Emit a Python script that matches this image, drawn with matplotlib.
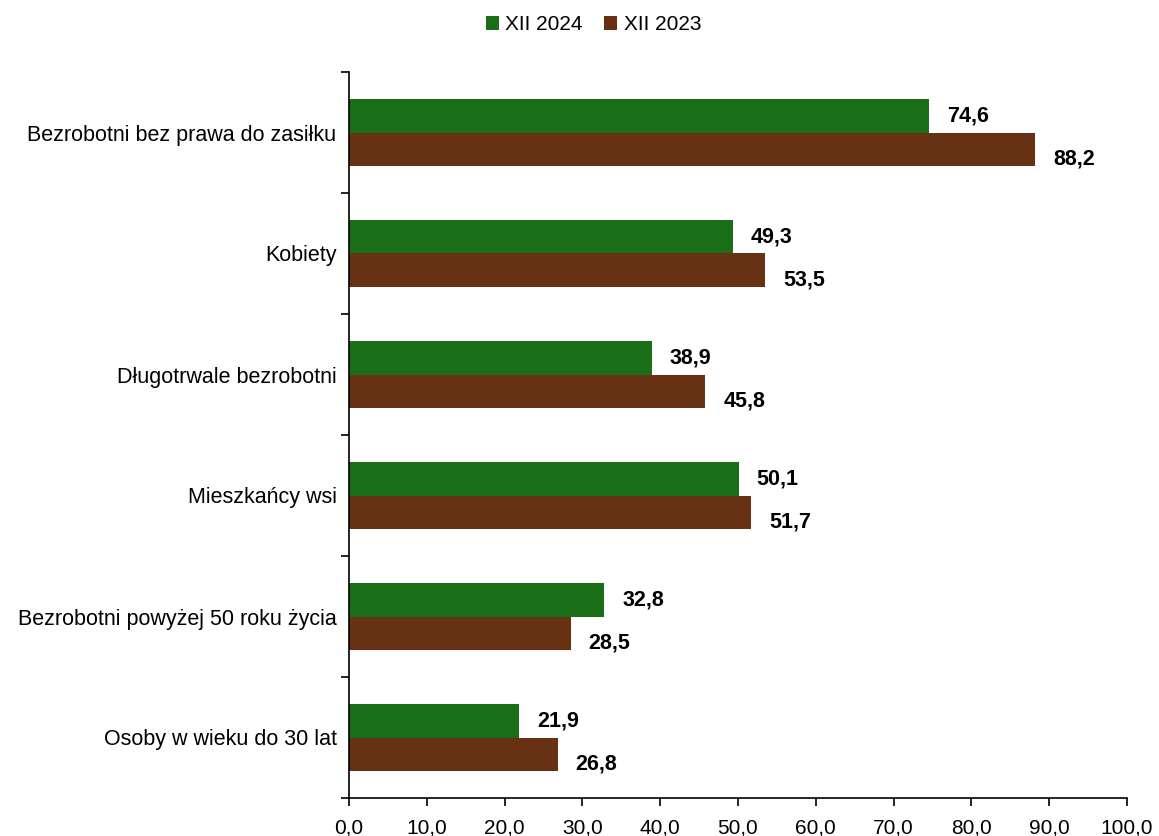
import numpy as np
import matplotlib.pyplot as plt

plt.rcParams['font.family'] = ['Liberation Sans', 'DejaVu Sans']

# Dane
kategorie = ['Bezrobotni bez prawa do zasiłku', 'Kobiety', 'Długotrwale bezrobotni',
             'Mieszkańcy wsi', 'Bezrobotni powyżej 50 roku życia', 'Osoby w wieku do 30 lat']
xii_2024 = [74.6, 49.3, 38.9, 50.1, 32.8, 21.9]
xii_2023 = [88.2, 53.5, 45.8, 51.7, 28.5, 26.8]
etykiety_x = ['0,0', '10,0', '20,0', '30,0', '40,0', '50,0', '60,0', '70,0', '80,0', '90,0', '100,0']

kolor_2024 = '#1a6e17'
kolor_2023 = '#673214'

fig = plt.figure(figsize=(11.59, 8.36), dpi=100)
ax = fig.add_axes([349 / 1159, 38 / 836, 778 / 1159, 726 / 836])

n = len(kategorie)
y = np.arange(n)[::-1]
h = 0.273

ax.barh(y + h / 2, xii_2024, height=h, color=kolor_2024, label='XII 2024')
ax.barh(y - h / 2, xii_2023, height=h, color=kolor_2023, label='XII 2023')

# Etykiety wartosci
for yi, v in zip(y, xii_2024):
    ax.annotate(f'{v:.1f}'.replace('.', ','), (v, yi + h / 2), xytext=(18, 0),
                textcoords='offset pixels', va='center', ha='left',
                fontsize=15.5, fontweight='bold')
for yi, v in zip(y, xii_2023):
    ax.annotate(f'{v:.1f}'.replace('.', ','), (v, yi - h / 2), xytext=(18, -10),
                textcoords='offset pixels', va='center', ha='left',
                fontsize=15.5, fontweight='bold')

ax.set_xlim(0, 100)
ax.set_ylim(-0.5, n - 0.5)
ax.set_xticks(np.arange(0, 101, 10))
ax.set_xticklabels(etykiety_x, fontsize=15)

# Ticki osi Y na granicach kategorii, etykiety w srodku
ax.set_yticks(np.arange(-0.5, n, 1.0))
ax.set_yticklabels([])
ax.set_yticks(y, minor=True)
ax.set_yticklabels(kategorie, minor=True, fontsize=15.5)
ax.tick_params(axis='y', which='minor', length=0, pad=9)
ax.tick_params(axis='y', which='major', length=6, width=1.2, direction='out')
ax.tick_params(axis='x', length=6, width=1.2, direction='out', pad=9)

for s in ['top', 'right']:
    ax.spines[s].set_visible(False)
for s in ['left', 'bottom']:
    ax.spines[s].set_linewidth(1.2)

fig.legend(loc='upper center', bbox_to_anchor=(0.512, 1.004), ncol=2, frameon=False,
           fontsize=15, handlelength=0.65, handleheight=0.65, handletextpad=0.3,
           columnspacing=1.0)

fig.savefig('out.png', dpi=100)
